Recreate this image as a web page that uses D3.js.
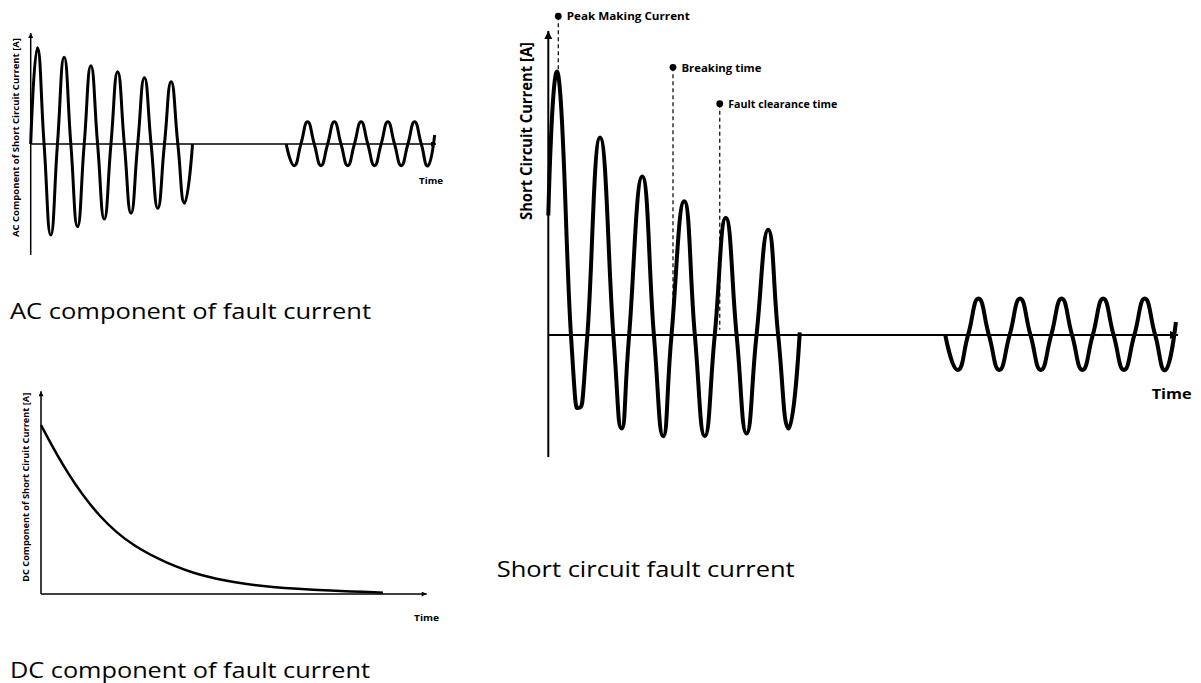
<!DOCTYPE html>
<html>
<head>
<meta charset="utf-8">
<script src="https://cdn.jsdelivr.net/npm/d3@7"></script>
<style>
  body { margin: 0; background: #fff; }
  text { font-family: "Open Sans", sans-serif; fill: #000; }
</style>
</head>
<body>
<script>
// Chart size
var w = 1201;
var h = 683;

// Main chart: short circuit current (peaks, troughs and zero crossings), time in ms
var faultTime = [0, 4.8, 10.9, 14.9, 18.8, 24.9, 31.3, 35.3, 38.9, 45.2, 50.8, 55.3, 59.3,
                 65.4, 70.5, 75.3, 80.1, 85.4, 90.6, 95.4, 100.2, 105.8, 110.6, 115.7, 121];
var faultCurrent = [4.6, 10.0, 0, -2.8, 0, 7.6, 0, -3.6, 0, 6.1, 0, -3.9, 0,
                    5.15, 0, -3.9, 0, 4.5, 0, -3.8, 0, 4.05, 0, -3.6, 0.1];

// Steady state current after the fault is cleared
var steadyTime = [191, 197, 202, 207, 212, 217, 222, 227, 232, 237, 242, 247,
                  252, 257, 262, 267, 272, 277, 282, 287, 292, 297, 302];
var steadyCurrent = [0, -1.35, 0, 1.4, 0, -1.35, 0, 1.4, 0, -1.35, 0, 1.4,
                     0, -1.35, 0, 1.4, 0, -1.35, 0, 1.4, 0, -1.35, 0.5];

// AC component (top left)
var acTime = [0, 5, 10, 15, 20, 25, 30, 35, 40, 45, 50, 55, 60,
              65, 70, 75, 80, 85, 90, 95, 100, 105, 110, 115, 121];
var acCurrent = [0, 6.94, 0, -6.56, 0, 6.25, 0, -5.96, 0, 5.64, 0, -5.41, 0,
                 5.21, 0, -4.99, 0, 4.78, 0, -4.63, 0, 4.49, 0, -4.27, 0];
var acSteady = [0, -1.56, 0, 1.6, 0, -1.56, 0, 1.6, 0, -1.56, 0, 1.6,
                0, -1.56, 0, 1.6, 0, -1.56, 0, 1.6, 0, -1.56, 0.65];

// DC component (bottom left)
var dcTime = [0, 20, 46, 72, 98, 124, 150, 176, 227, 266];
var dcCurrent = [5.0, 3.57, 2.22, 1.40, 0.91, 0.54, 0.35, 0.20, 0.09, 0.04];

// Annotations on the main chart
var markerLabels = ["Peak Making Current", "Breaking time", "Fault clearance time"];
var markerTime = [4.8, 60, 82.5];
var markerLevel = [12.27, 10.3, 8.9];
var markerEnd = [10.0, 0.2, 0.2];

var svg = d3.select("body")
            .append("svg")
            .attr("width", w)
            .attr("height", h);

// arrow heads for the axes
var defs = svg.append("defs");
[["arrowBig", 10, 8], ["arrowSmall", 6, 5]].forEach(function(a) {
  defs.append("marker")
      .attr("id", a[0])
      .attr("markerUnits", "userSpaceOnUse")
      .attr("viewBox", "0 0 10 10")
      .attr("refX", 10).attr("refY", 5)
      .attr("markerWidth", a[1]).attr("markerHeight", a[2])
      .attr("orient", "auto")
      .append("path")
      .attr("d", "M0,0 L10,5 L0,10 z")
      .attr("fill", "#000");
});

function zip(ts, vs) {
  return ts.map(function(t, i) { return [t, vs[i]]; });
}

// sine-like waves: cardinal spline through peaks and zero crossings
function drawWave(x, y, data, width, curve) {
  var line = d3.line()
               .x(function(d) { return x(d[0]); })
               .y(function(d) { return y(d[1]); })
               .curve(curve || d3.curveCardinal.tension(-0.5));
  svg.append("path")
     .datum(data)
     .attr("d", line)
     .attr("fill", "none")
     .attr("stroke", "#000")
     .attr("stroke-width", width)
     .attr("stroke-linejoin", "round");
}

function axisLine(x1, y1, x2, y2, width, marker) {
  svg.append("line")
     .attr("x1", x1).attr("y1", y1)
     .attr("x2", x2).attr("y2", y2)
     .attr("stroke", "#000")
     .attr("stroke-width", width)
     .attr("marker-end", "url(#" + marker + ")");
}

function label(txt, x, y, size, weight, len, rotate) {
  var t = svg.append("text")
     .attr("x", x).attr("y", y)
     .attr("font-size", size)
     .attr("font-weight", weight)
     .attr("textLength", len)
     .attr("lengthAdjust", "spacingAndGlyphs")
     .text(txt);
  if (rotate) {
    t.attr("text-anchor", "middle")
     .attr("transform", "rotate(-90," + x + "," + y + ")");
  }
  return t;
}

// ---------- AC component ----------
var xAc = d3.scaleLinear().domain([0, 303]).range([30.7, 436]);
var yAc = d3.scaleLinear().domain([-8, 8]).range([255, 33]);

axisLine(xAc(0), yAc(-8), xAc(0), yAc(8), 1.5, "arrowSmall");
axisLine(xAc(0), yAc(0), xAc(303), yAc(0), 1.5, "arrowSmall");
drawWave(xAc, yAc, zip(acTime, acCurrent), 3);
drawWave(xAc, yAc, zip(steadyTime, acSteady), 3);
label("AC Component of Short Circuit Current [A]", 18.5, 137.5, 9.5, "bold", 199, true);
label("Time", 419, 184, 9, "bold", 24);
label("AC component of fault current", 10, 319, 22, "normal", 361);

// ---------- DC component ----------
var xDc = d3.scaleLinear().domain([0, 300]).range([41, 426.7]);
var yDc = d3.scaleLinear().domain([0, 6]).range([594, 391.2]);

axisLine(xDc(0), yDc(0), xDc(0), yDc(6), 1.5, "arrowSmall");
axisLine(xDc(0), yDc(0), xDc(300), yDc(0), 1.5, "arrowSmall");
drawWave(xDc, yDc, zip(dcTime, dcCurrent), 2.5, d3.curveBasis);
label("DC Component of Short Ciruit Current [A]", 29.5, 487.3, 9.5, "bold", 189, true);
label("Time", 414, 620.7, 9, "bold", 25);
label("DC component of fault current", 10, 678.3, 22, "normal", 360);

// ---------- Short circuit fault current ----------
var x = d3.scaleLinear().domain([0, 303]).range([548.3, 1178]);
var y = d3.scaleLinear().domain([-4.7, 11.7]).range([457, 31]);

axisLine(x(0), y(-4.7), x(0), y(11.7), 2, "arrowBig");
axisLine(x(0), y(0), x(303), y(0), 2, "arrowBig");

// dashed marker lines
markerLabels.forEach(function(m, i) {
  svg.append("line")
     .attr("x1", x(markerTime[i])).attr("y1", y(markerLevel[i]))
     .attr("x2", x(markerTime[i])).attr("y2", y(markerEnd[i]))
     .attr("stroke", "#000")
     .attr("stroke-width", 1.2)
     .attr("stroke-dasharray", "4,3");
  svg.append("circle")
     .attr("cx", x(markerTime[i]))
     .attr("cy", y(markerLevel[i]))
     .attr("r", 3.4)
     .attr("fill", "#000");
});

drawWave(x, y, zip(faultTime, faultCurrent), 4);
drawWave(x, y, zip(steadyTime, steadyCurrent), 4);

var markerLen = [123, 80, 109];
markerLabels.forEach(function(m, i) {
  label(m, x(markerTime[i]) + 8.5, y(markerLevel[i]) + 4.2, 11, "bold", markerLen[i]);
});

label("Short Circuit Current [A]", 531.5, 131, 15.5, "bold", 178, true);
label("Time", 1151.7, 399, 15, "bold", 40);
label("Short circuit fault current", 496.7, 577.3, 22, "normal", 298);
</script>
</body>
</html>
